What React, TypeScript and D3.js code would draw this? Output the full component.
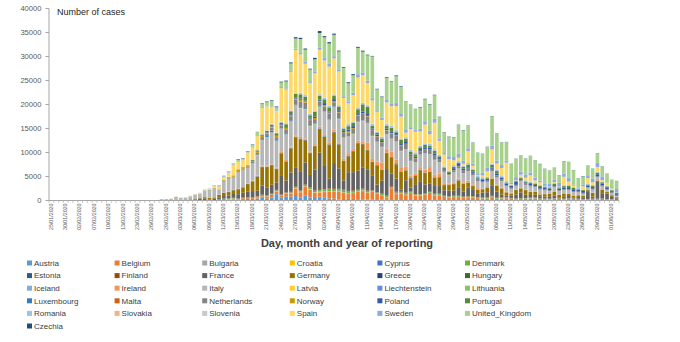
import React from 'react';
import * as d3 from 'd3';

// ---------- categories ----------
const dateKeys = [
  '25/01','27/01','28/01','30/01','31/01','01/02','02/02','04/02','06/02','07/02','08/02','09/02','10/02','11/02','12/02','13/02','21/02','22/02',
  '23/02','24/02','25/02','26/02','27/02','28/02','29/02',
  '01/03','02/03','03/03','04/03','05/03','06/03','07/03','08/03','09/03','10/03','11/03','12/03','13/03','14/03','15/03','16/03','17/03','18/03','19/03','20/03','21/03','22/03','23/03','24/03','25/03','26/03','27/03','28/03','29/03','30/03','31/03',
  '01/04','02/04','03/04','04/04','05/04','06/04','07/04','08/04','09/04','10/04','11/04','12/04','13/04','14/04','15/04','16/04','17/04','18/04','19/04','20/04','21/04','22/04','23/04','24/04','25/04','26/04','27/04','28/04','29/04','30/04',
  '01/05','02/05','03/05','04/05','05/05','06/05','07/05','08/05','09/05','10/05','11/05','12/05','13/05','14/05','15/05','16/05','17/05','18/05','19/05','20/05','21/05','22/05','23/05','24/05','25/05','26/05','27/05','28/05','29/05','30/05','31/05',
  '01/06','02/06'
];
const dateLabels = dateKeys.map((d) => d + '/2020');
const yTicks = [0, 5000, 10000, 15000, 20000, 25000, 30000, 35000, 40000];

// ---------- series values (early 18 | Feb 23-29 | Mar | Apr | May | Jun 1-2) ----------
const Austria = [0,0,0,0,0,0,0,0,0,0,0,0,0,0,0,0,0,0, 0,0,0,2,0,1,0,
  4,4,8,6,12,14,11,29,27,48,66,70,143,214,151,295,314,314,409,550,375,623,1321,606,855,796,1141,668,1051,594,522,
  805,564,418,395,241,314,343,329,279,266,241,162,116,137,134,104,88,73,70,65,75,82,70,59,63,59,54,45,60,57,
  43,58,37,39,43,55,44,40,39,29,16,32,25,42,43,56,47,15,26,30,40,26,30,31,24,14,17,52,59,46,30, 19,30];
const Belgium = [0,0,0,0,0,0,0,1,0,0,0,0,0,0,0,0,0,0, 0,0,0,0,0,0,0,
  0,1,6,5,10,27,59,60,31,39,28,47,85,160,133,197,172,185,243,309,462,558,586,342,526,668,1298,1049,1850,1702,1063,
  876,1189,1384,1422,1661,1260,1123,1209,1580,1684,1351,1629,1260,942,530,2454,1236,1329,1045,1487,933,973,1124,1496,1032,1032,701,553,647,660,
  514,606,600,455,361,323,639,287,356,446,365,228,299,282,298,316,257,268,209,292,280,230,298,300,257,141,160,268,226,269,129, 162,74];
const Bulgaria = [0,0,0,0,0,0,0,0,0,0,0,0,0,0,0,0,0,0, 0,0,0,0,0,0,0,
  0,0,0,0,0,0,0,4,0,0,2,1,16,0,8,10,11,3,8,13,31,24,24,22,21,20,22,28,25,23,35,
  40,26,18,38,24,27,19,18,26,42,25,24,23,27,22,39,56,47,52,14,43,32,34,24,51,30,28,43,52,35,
  36,41,31,28,32,19,62,45,48,36,14,34,18,63,94,81,28,42,33,48,26,35,19,14,8,20,20,14,15,16,8, 17,13];
const Croatia = [0,0,0,0,0,0,0,0,0,0,0,0,0,0,0,0,0,0, 0,0,0,3,0,0,0,
  0,1,2,0,1,2,0,0,0,1,2,1,6,7,11,16,6,9,24,23,36,48,49,61,67,56,91,71,69,78,96,
  96,79,77,71,50,73,33,57,41,62,39,29,45,25,32,29,25,29,32,33,35,28,25,26,21,29,11,12,11,11,
  13,6,16,9,3,2,8,4,4,1,2,3,0,4,4,2,5,3,0,2,1,1,2,0,1,1,0,1,1,0,3, 0,1];
const Cyprus = [0,0,0,0,0,0,0,0,0,0,0,0,0,0,0,0,0,0, 0,0,0,0,0,0,0,
  0,0,0,0,0,0,0,0,0,2,0,0,4,8,19,6,13,0,28,9,17,11,21,13,16,14,14,25,17,8,14,
  52,42,38,36,39,20,20,6,30,31,12,7,35,9,17,11,17,18,19,7,11,3,16,7,13,6,9,15,6,3,
  2,4,4,9,0,2,2,1,0,3,3,0,0,2,2,1,7,0,2,0,0,0,0,1,3,0,2,0,0,0,0, 0,0];
const Denmark = [0,0,0,0,0,0,0,0,0,0,0,0,0,0,0,0,0,0, 0,0,0,0,0,1,0,
  0,0,3,4,5,10,3,15,8,5,172,252,160,127,31,37,79,79,123,162,75,54,93,103,138,137,186,180,198,209,267,
  307,343,391,317,292,390,312,331,183,278,184,177,136,200,197,174,226,198,270,173,160,151,130,128,122,155,118,130,138,163,
  142,121,145,109,122,141,126,128,116,101,78,76,85,94,98,95,51,75,72,77,73,52,67,47,41,40,53,36,49,34,48, 32,19];
const Estonia = [0,0,0,0,0,0,0,0,0,0,0,0,0,0,0,0,0,0, 0,0,0,0,0,1,0,
  0,0,1,0,0,0,8,0,0,0,0,11,0,11,56,36,49,26,16,68,52,34,26,45,35,32,39,38,36,27,30,
  32,34,42,21,21,65,69,43,45,41,38,65,45,41,37,13,59,22,19,47,13,10,21,44,11,33,9,13,6,13,
  5,9,8,7,8,13,11,17,14,10,4,12,3,4,8,3,3,5,3,7,1,2,3,1,2,3,3,4,1,6,10, 0,2];
const Finland = [0,0,0,0,1,0,0,0,0,0,0,0,0,0,0,0,0,0, 0,0,0,0,1,0,1,
  1,0,3,1,6,3,4,5,7,0,19,46,45,46,70,89,48,48,77,93,73,77,103,87,81,80,88,93,76,79,76,
  169,59,133,267,106,160,67,137,139,120,161,61,60,105,82,135,203,138,136,72,76,74,117,145,106,121,131,84,105,79,
  37,96,48,57,35,67,94,82,71,51,66,70,67,34,48,50,63,16,34,60,60,62,46,23,32,26,31,31,19,47,40, 19,19];
const France = [3,0,0,1,0,0,0,0,0,0,5,0,0,0,0,0,0,0, 0,0,2,4,20,19,43,
  43,30,61,13,81,92,276,296,177,286,372,497,595,785,838,924,1210,1300,1097,1861,1617,1847,1559,4000,2446,4000,3922,3809,4611,2599,4376,
  7578,4861,2116,5233,4267,1873,3912,3777,3881,4286,4342,3114,1613,2673,5497,2633,2641,405,2569,785,2051,2667,1827,1653,1773,1537,1061,1150,1065,1607,
  1045,1800,1306,800,1050,1104,2200,1284,579,312,456,802,1198,710,552,597,439,369,514,524,200,358,472,262,358,324,1500,400,3500,1100,1200, 500,300];
const Germany = [0,0,4,1,0,1,2,0,2,1,0,0,2,0,0,0,0,0, 0,0,0,2,1,10,0,
  57,150,100,44,106,143,129,280,300,254,500,648,692,762,1000,1043,1500,2000,2960,3800,4200,4000,2700,4500,3900,5000,6300,6800,4530,4475,4800,
  4923,6064,6922,6365,4933,4031,3251,4289,5633,4885,3990,2737,3946,2218,3300,3394,2945,3699,2018,1775,1785,2237,2352,2337,1514,1737,1018,1144,1304,1478,
  1639,945,793,679,685,947,1284,1209,1251,667,357,933,798,913,620,583,342,513,513,797,460,638,431,289,342,432,353,741,286,741,286, 333,213];
const Greece = [0,0,0,0,0,0,0,0,0,0,0,0,0,0,0,0,0,0, 0,0,0,1,2,0,4,
  0,0,0,1,13,14,4,7,7,9,10,28,18,38,50,79,45,31,46,77,54,84,94,71,48,71,72,72,95,102,66,
  57,53,101,60,62,35,57,38,54,30,25,18,25,15,33,23,22,25,19,156,15,43,45,41,11,21,4,10,12,18,
  15,5,2,19,1,4,11,1,12,12,2,5,12,15,2,3,10,5,8,4,10,21,5,4,5,20,12,3,5,2,0, 2,6];
const Hungary = [0,0,0,0,0,0,0,0,0,0,0,0,0,0,0,0,0,0, 0,0,0,0,0,0,0,
  0,0,0,0,2,2,3,0,2,2,4,3,3,2,6,11,8,11,8,35,18,36,20,20,36,35,74,60,42,39,45,
  45,60,38,55,45,43,73,78,85,96,111,75,77,50,59,72,210,70,54,38,53,74,42,65,94,114,85,70,46,88,
  58,44,33,42,20,50,35,31,38,35,18,14,37,20,26,24,11,15,26,15,21,35,23,24,24,12,36,20,27,22,15, 14,16];
const Iceland = [0,0,0,0,0,0,0,0,0,0,0,0,0,0,0,0,0,0, 0,0,0,0,0,0,0,
  1,0,0,10,16,8,10,10,19,15,36,19,32,46,24,17,38,66,80,83,90,64,112,40,60,89,63,54,59,63,68,
  99,75,36,72,67,35,32,34,27,24,24,12,11,14,13,6,21,11,12,9,9,8,7,2,0,6,0,2,2,1,
  2,0,2,0,1,2,0,0,2,0,0,0,0,0,0,0,0,0,1,0,1,2,1,0,0,0,0,0,3,0,1, 0,2];
const Ireland = [0,0,0,0,0,0,0,0,0,0,0,0,0,0,0,0,0,0, 0,0,0,0,0,0,1,
  1,0,0,1,3,5,5,0,3,11,10,9,27,20,39,40,54,69,74,191,126,102,121,219,204,235,255,302,294,200,295,
  325,212,402,424,331,390,370,365,500,480,1515,553,727,1479,832,1068,724,709,778,493,401,388,631,936,577,701,376,263,305,376,
  221,402,343,331,155,60,145,236,159,128,236,68,107,135,81,103,85,64,51,56,59,38,57,56,65,37,59,73,45,85,22, 57,35];
const Italy = [0,0,0,0,2,0,0,0,0,0,0,0,0,0,0,0,1,17, 62,53,97,93,78,250,238,
  240,561,347,466,587,769,778,1247,1492,1797,977,2313,2651,2547,3497,3590,3233,3526,4207,5322,5986,6557,5560,4789,5249,5210,6153,5959,5974,5217,4050,
  4053,4782,4668,4585,4805,4316,3599,3039,3836,4204,3951,4694,4092,3153,2972,2667,3786,3493,3491,3047,2256,2729,3370,2646,3021,2357,2324,1739,2091,2086,
  1872,1965,1900,1389,1221,1075,1444,1401,1327,1083,802,744,1402,888,992,789,875,675,451,813,665,642,652,669,531,300,397,584,593,516,416, 355,178];
const Latvia = [0,0,0,0,0,0,0,0,0,0,0,0,0,0,0,0,0,0, 0,0,0,0,0,0,0,
  0,0,1,0,0,0,0,1,0,5,3,4,3,9,8,4,26,10,25,25,13,28,41,17,24,24,41,25,36,26,28,
  48,12,12,28,16,20,9,17,23,47,12,11,4,8,9,12,9,12,28,12,15,13,12,14,9,10,7,6,13,2,
  12,5,6,5,5,2,7,6,14,7,7,8,7,7,5,10,3,3,6,5,5,4,5,9,7,4,5,2,5,2,1, 3,2];
const Liechtenstein = [0,0,0,0,0,0,0,0,0,0,0,0,0,0,0,0,0,0, 0,0,0,0,0,0,0,
  0,0,0,1,0,0,0,0,0,0,0,0,0,3,1,2,0,0,21,0,9,8,5,0,5,5,0,0,0,5,0,
  2,2,2,2,4,3,0,2,0,1,0,0,1,0,1,0,1,0,0,0,0,0,0,0,0,0,0,0,0,0,
  0,1,0,0,0,0,0,0,0,0,0,0,0,0,0,0,0,0,0,0,0,0,0,0,0,0,0,0,0,0,0, 0,0];
const Lithuania = [0,0,0,0,0,0,0,0,0,0,0,0,0,0,0,0,0,0, 0,0,0,0,0,1,0,
  0,0,0,0,0,0,0,0,0,0,1,1,1,0,3,2,5,11,9,21,0,43,36,49,64,17,58,74,78,61,74,
  73,38,73,37,58,21,43,82,43,19,69,56,1,59,47,35,21,47,46,15,24,22,9,37,61,20,37,24,10,15,
  35,12,9,6,8,9,9,7,8,14,6,15,27,25,13,16,31,21,22,6,11,10,5,10,5,14,4,11,12,12,7, 5,7];
const Luxembourg = [0,0,0,0,0,0,0,0,0,0,0,0,0,0,0,0,0,0, 0,0,0,0,0,0,0,
  1,0,0,0,0,0,2,0,0,0,2,2,19,7,25,30,4,59,124,149,186,335,128,77,234,220,152,141,182,128,144,
  138,66,105,130,89,42,47,60,96,68,80,48,47,41,45,40,49,32,34,50,33,23,18,14,20,12,15,18,23,14,
  3,10,12,6,8,13,10,11,6,7,5,3,8,9,5,8,4,4,2,3,5,4,4,3,3,9,11,2,8,11,3, 12,0];
const Malta = [0,0,0,0,0,0,0,0,0,0,0,0,0,0,0,0,0,0, 0,0,0,0,0,0,0,
  0,0,0,0,0,0,3,0,2,1,0,3,0,9,3,9,7,8,10,6,20,17,17,9,10,10,7,10,12,9,18,
  13,14,20,11,14,20,14,8,5,16,21,8,10,11,3,8,16,11,19,16,9,8,4,2,2,3,1,1,1,6,
  3,11,6,2,1,4,1,1,1,3,1,3,2,4,3,3,3,6,4,8,6,6,11,5,17,19,19,11,17,13,3, 3,6];
const Netherlands = [0,0,0,0,0,0,0,0,0,0,0,0,0,0,0,0,0,0, 0,0,0,0,0,1,5,
  5,8,6,14,10,44,46,60,77,56,61,121,111,190,155,176,278,292,346,409,534,637,573,545,811,852,1019,1172,1159,1104,884,
  845,1019,1083,904,1224,952,777,969,1213,1335,1316,1174,1069,868,734,1061,1235,1140,1066,964,750,729,708,887,806,655,400,171,386,445,
  514,475,445,335,199,232,445,455,319,246,209,196,199,258,213,204,200,180,141,196,220,163,188,180,117,176,117,200,168,195,114, 180,120];
const Norway = [0,0,0,0,0,0,0,0,0,0,0,0,0,0,0,0,0,0, 0,0,0,0,1,0,5,
  9,4,9,11,13,28,29,25,30,66,17,123,203,142,240,175,93,138,273,227,187,191,248,176,268,290,229,362,260,297,241,
  188,265,226,176,130,118,199,187,122,130,130,84,62,67,97,96,84,67,41,53,55,45,88,46,50,30,22,30,49,56,
  40,35,18,21,13,28,33,26,18,10,12,12,8,25,15,7,9,6,16,10,19,13,18,11,15,8,7,14,9,5,12, 8,11];
const Poland = [0,0,0,0,0,0,0,0,0,0,0,0,0,0,0,0,0,0, 0,0,0,0,0,0,0,
  0,0,0,1,0,4,1,5,6,5,9,18,17,39,43,56,27,87,100,68,111,111,115,152,150,170,249,224,193,256,243,
  256,437,244,475,337,311,404,425,357,370,380,268,318,260,268,336,380,363,545,263,306,380,313,381,387,375,307,225,404,388,
  380,271,285,245,300,319,281,307,327,338,390,595,216,249,334,288,335,421,353,250,330,370,443,415,315,395,300,375,420,378,398, 230,263];
const Portugal = [0,0,0,0,0,0,0,0,0,0,0,0,0,0,0,0,0,0, 0,0,0,0,0,0,0,
  0,0,2,3,2,4,8,9,9,11,18,19,34,34,57,86,117,194,143,235,260,320,460,302,633,549,724,902,792,446,1035,
  808,783,852,638,754,452,712,699,815,1516,1452,598,349,514,643,750,181,663,521,629,516,371,603,444,595,163,174,183,305,295,
  366,553,325,242,184,178,533,553,138,226,98,173,234,187,288,291,227,181,223,252,227,288,271,295,166,181,219,285,350,304,200, 193,294];
const Romania = [0,0,0,0,0,0,0,0,0,0,0,0,0,0,0,0,0,0, 0,0,0,0,1,0,2,
  0,0,0,0,1,1,2,0,6,0,1,18,17,15,8,33,44,34,19,31,31,59,66,143,186,144,123,263,308,308,162,
  290,288,331,272,269,190,416,223,363,303,353,352,217,324,298,381,392,251,306,343,399,343,304,347,345,280,190,280,330,310,
  265,327,289,323,390,265,232,261,246,265,190,160,215,232,158,216,254,175,190,188,188,186,161,179,132,111,121,137,157,144,156, 110,117];
const Slovakia = [0,0,0,0,0,0,0,0,0,0,0,0,0,0,0,0,0,0, 0,0,0,0,0,0,0,
  0,0,0,0,0,1,0,2,2,2,0,3,11,11,11,19,25,25,14,18,41,52,31,19,12,32,23,43,22,22,22,
  37,27,24,45,14,114,51,47,19,9,44,34,16,41,42,50,30,15,24,22,12,35,34,11,10,5,8,4,4,16,
  1,2,7,6,1,4,1,7,1,2,0,2,1,2,4,3,1,2,2,3,2,5,2,1,2,3,12,3,0,2,0, 1,2];
const Slovenia = [0,0,0,0,0,0,0,0,0,0,0,0,0,0,0,0,0,0, 0,0,0,0,0,0,0,
  0,0,0,0,1,5,1,5,4,6,9,65,42,45,35,20,14,36,23,31,25,34,39,23,48,48,39,32,23,31,47,
  35,52,40,57,24,43,17,28,25,25,35,25,13,21,11,37,30,22,30,14,14,13,20,17,12,19,15,12,9,7,
  8,7,0,2,4,11,3,2,0,2,4,3,5,4,5,2,5,0,1,0,2,4,2,1,3,1,2,1,0,0,2, 3,0];
const Spain = [0,0,0,0,0,1,0,0,0,0,1,0,0,0,0,0,0,0, 0,0,0,4,2,6,13,
  13,39,46,45,57,37,141,100,173,400,622,582,869,2086,1500,1407,2500,2500,2900,5500,5000,3600,4500,7000,7000,8000,9000,8000,6500,6400,7800,
  9222,7719,8102,7472,7026,6023,4273,5478,6180,5756,4576,4830,4167,3477,4500,4000,5000,4600,887,4300,4300,2900,3900,2000,5500,2944,2500,2400,1000,700,
  400,2500,557,100,360,1160,3000,1300,1670,3850,100,50,400,530,1320,430,517,0,0,200,0,1744,730,250,0,660,1200,550,1000,300,570, 260,0];
const Sweden = [0,0,0,0,0,1,0,0,0,0,0,0,0,0,0,0,0,0, 0,0,0,1,0,5,5,
  1,1,0,15,18,24,20,47,49,100,145,160,120,130,110,90,100,130,180,190,160,140,120,200,240,300,240,300,400,350,300,
  480,500,570,460,420,380,390,480,720,540,470,470,330,460,500,480,610,670,560,390,390,540,680,750,810,460,290,610,680,790,
  680,560,430,240,550,710,790,640,640,380,280,630,640,710,620,610,310,500,660,540,770,630,780,250,230,410,600,780,860,770,0, 250,670];
const United_Kingdom = [0,0,0,0,0,2,0,0,1,0,0,0,4,1,0,0,0,0, 0,0,0,0,0,3,4,
  12,4,11,34,30,48,43,67,48,61,50,87,134,208,342,251,152,407,676,643,714,1035,665,967,1427,1452,2129,2885,2546,2433,2619,
  3009,4324,4244,4450,3735,5903,3802,3634,5491,4344,5300,8700,4342,4300,4603,4617,5599,5526,5850,4676,4301,4451,4583,5386,4913,4463,4309,3996,4076,6032,
  6201,4806,4339,4406,3985,4406,6111,5614,4649,3896,3923,3877,3403,3242,3446,3560,3450,3000,2684,2412,1500,2615,3287,2959,1900,1625,2004,2013,1887,2095,1936, 1570,1653];
const Czechia = [0,0,0,0,0,0,0,0,0,0,0,0,0,0,0,0,0,0, 0,0,0,0,0,0,0,
  0,3,2,0,0,7,7,6,9,8,32,22,27,31,117,87,89,83,40,104,120,135,157,158,186,212,270,249,223,167,296,
  401,245,273,244,164,156,205,231,195,207,134,110,114,117,138,99,158,117,86,54,60,116,103,111,99,74,61,66,73,52,
  94,33,63,53,36,33,47,49,62,44,43,20,29,57,31,45,63,49,34,48,65,42,38,47,40,82,38,46,76,39,28, 21,39];

const countries = ['Austria','Belgium','Bulgaria','Croatia','Cyprus','Denmark','Estonia','Finland','France','Germany','Greece','Hungary','Iceland','Ireland','Italy','Latvia','Liechtenstein','Lithuania','Luxembourg','Malta','Netherlands','Norway','Poland','Portugal','Romania','Slovakia','Slovenia','Spain','Sweden','United_Kingdom','Czechia'];
const seriesValues = [Austria,Belgium,Bulgaria,Croatia,Cyprus,Denmark,Estonia,Finland,France,Germany,Greece,Hungary,Iceland,Ireland,Italy,Latvia,Liechtenstein,Lithuania,Luxembourg,Malta,Netherlands,Norway,Poland,Portugal,Romania,Slovakia,Slovenia,Spain,Sweden,United_Kingdom,Czechia];
const colors = [
  '#5B9BD5','#ED7D31','#A5A5A5','#FFC000','#4472C4','#70AD47',
  '#255E91','#9E480E','#636363','#997300','#264478','#43682B',
  '#7CAFDD','#F1975A','#B7B7B7','#FFCD33','#698ED0','#8CC168',
  '#327DC2','#D26012','#848484','#CC9A00','#335AA1','#5A8A39',
  '#9DC3E6','#F4B183','#C9C9C9','#FFD966','#8FAADC','#A9D18E',
  '#1F4E79'
];

const W = 680, H = 342;
const X0 = 49, X1 = 619, Y0 = 200.5, Y1 = 8.5;
const FONT = 'Liberation Sans, Arial, sans-serif';

export default function App() {
  const n = dateKeys.length;
  const rows = dateKeys.map((_, i) => {
    const r: any = {};
    countries.forEach((c, k) => { r[c] = seriesValues[k][i] || 0; });
    return r;
  });
  const stacked = d3.stack().keys(countries)(rows);
  const x = d3.scaleBand<number>().domain(d3.range(n)).range([X0, X1]).paddingInner(0.24).paddingOuter(0.12);
  const y = d3.scaleLinear().domain([0, 40000]).range([Y0, Y1]);
  const step = x.step();

  return (
    <div style={{ position: 'absolute', left: 0, top: 0 }}>
      <svg width={W} height={H} style={{ display: 'block', background: '#fff' }} fontFamily={FONT}>
        {/* bars */}
        {stacked.map((s, k) => (
          <g key={countries[k]} fill={colors[k]}>
            {s.map((d, i) => {
              const h = y(d[0]) - y(d[1]);
              if (h <= 0) return null;
              return <rect key={i} x={x(i)} y={y(d[1])} width={x.bandwidth()} height={h} />;
            })}
          </g>
        ))}
        {/* y axis */}
        <line x1={X0} x2={X0} y1={Y1} y2={Y0} stroke="#A6A6A6" strokeWidth={1} />
        {yTicks.map((t) => (
          <g key={t}>
            <line x1={X0 - 3.5} x2={X0} y1={y(t)} y2={y(t)} stroke="#A6A6A6" strokeWidth={1} />
            <text x={41.5} y={y(t)} dy="0.35em" textAnchor="end" fontSize={7.6} fill="#595959">{t}</text>
          </g>
        ))}
        {/* x axis */}
        <line x1={X0} x2={X1} y1={Y0} y2={Y0} stroke="#A6A6A6" strokeWidth={1} />
        {d3.range(n + 1).map((i) => {
          const xx = X0 + (X1 - X0) * 0 + (x(0)! - step * 0.12 - X0 + 0) + i * step;
          return <line key={i} x1={xx} x2={xx} y1={Y0} y2={Y0 + 2.5} stroke="#A6A6A6" strokeWidth={0.6} />;
        })}
        {dateLabels.map((lab, i) =>
          i % 3 === 0 ? (
            <text key={lab} transform={`translate(${x(i)! + x.bandwidth() / 2 - 0.6},203.5) rotate(-90)`} dy="0.35em" textAnchor="end" fontSize={5.3} fill="#595959">{lab}</text>
          ) : null
        )}
        {/* titles */}
        <text x={57} y={14.5} fontSize={9} fill="#262626">Number of cases</text>
        <text x={347} y={247} textAnchor="middle" fontSize={11} fontWeight="bold" fill="#404040">Day, month and year of reporting</text>
        {/* legend */}
        {countries.map((c, k) => {
          const col = k % 6, row = Math.floor(k / 6);
          const lx = 27 + col * 87.6, ly = 263 + row * 12.6;
          return (
            <g key={c}>
              <rect x={lx} y={ly - 2.5} width={5} height={5} fill={colors[k]} />
              <text x={lx + 7} y={ly} dy="0.35em" fontSize={8} fill="#404040">{c}</text>
            </g>
          );
        })}
      </svg>
    </div>
  );
}
